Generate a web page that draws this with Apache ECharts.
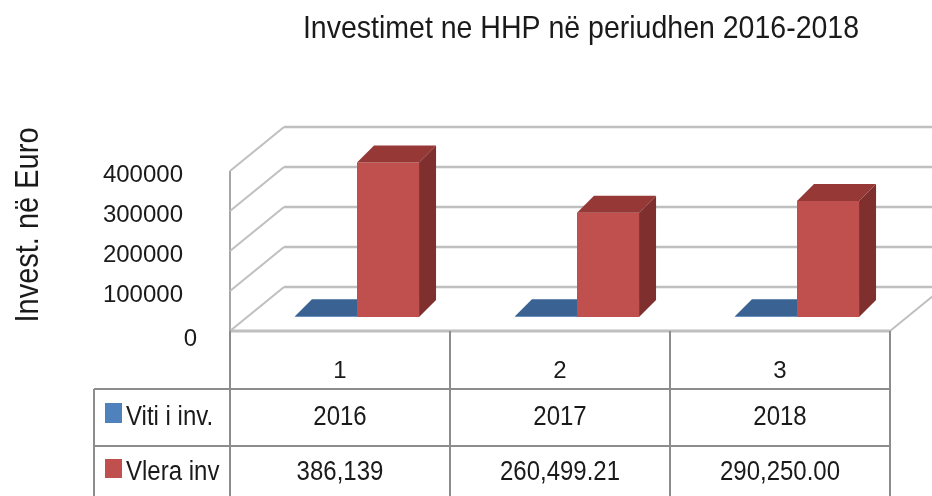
<!DOCTYPE html>
<html><head><meta charset="utf-8">
<script src="https://cdn.jsdelivr.net/npm/echarts@6/dist/echarts.min.js"></script>
<style>html,body{margin:0;padding:0;background:#fff}#c{width:932px;height:496px}</style>
</head><body><div id="c"></div>
<script>
// ---- data ----
const titleText = 'Investimet ne HHP në periudhen 2016-2018';
const yAxisTitle = 'Invest. në Euro';
const categories = ['1', '2', '3'];
const seriesNames = ['Viti i inv.', 'Vlera inv'];
const vitiValues = [2016, 2017, 2018];
const vleraValues = [386139, 260499.21, 290250.00];
const vitiLabels = ['2016', '2017', '2018'];
const vleraLabels = ['386,139', '260,499.21', '290,250.00'];
const yTicks = [0, 100000, 200000, 300000, 400000];

// ---- styles ----
const FONT = 'Liberation Sans';
const TXT = '#1a1a1a';
const faces = [
  { front: '#4F81BD', top: '#3A6394', side: '#2F5079' },
  { front: '#C0504D', top: '#953836', side: '#7F302E' }
];
const FY = 4;            // front plane offset (px up from axis coord)
const PX = 17, PY = 18;  // bar plane offset
const DX = 17, DY = 17;  // bar depth
const BX = 54, BY = 48;  // back wall offset
const GRID = '#bfbfbf';
const TABLE = '#8c8c8c';
const STRETCH = 1.15;

function seg(x1, y1, x2, y2, stroke, w) {
  return { type: 'line', shape: { x1, y1, x2, y2 }, style: { stroke, lineWidth: w } };
}
function txt(x, y, text, size, align) {
  return { type: 'text', x, y, scaleY: STRETCH,
    style: { x: 0, y: 0, text, fontSize: size, fontFamily: FONT, fill: TXT,
      align: align || 'center', verticalAlign: 'middle' } };
}

function wallsRender(params, api) {
  const cs = params.coordSys;
  const v = api.value(1);
  const y = api.coord([0, v])[1];
  const xl = cs.x, xr = cs.x + cs.width;
  const yf = y - FY, yb = y - BY;
  const ch = [];
  ch.push(seg(xl, yf, xl + BX, yb, GRID, 2));
  ch.push(seg(xl + BX, yb, xr + BX + 80, yb, GRID, 2.5));
  if (v === 0) {
    const yTop = api.coord([0, yTicks[yTicks.length - 1]])[1] - FY;
    ch.push(seg(xl, yf, xr, yf, GRID, 3));
    ch.push(seg(xr, yf, xr + BX, yb, GRID, 2));
    ch.push(seg(xl, yf, xl, yTop, '#a6a6a6', 2));
  }
  return { type: 'group', children: ch };
}

function barRender(sIdx) {
  return function (params, api) {
    const i = api.value(0), v = api.value(1);
    const base = api.coord([i, 0]);
    const topP = api.coord([i, v]);
    const band = api.size([1, 0])[0];
    const bw = band * 0.282;
    const cx = base[0] + PX;
    const x0 = sIdx === 0 ? cx - bw : cx;
    const x1 = x0 + bw;
    const yb = base[1] - PY, yt = topP[1] - PY;
    const f = faces[sIdx];
    return { type: 'group', children: [
      { type: 'rect', shape: { x: x0, y: yt, width: bw, height: Math.max(yb - yt, 0.5) }, style: { fill: f.front } },
      { type: 'polygon', shape: { points: [[x0, yt], [x1, yt], [x1 + DX, yt - DY], [x0 + DX, yt - DY]] }, style: { fill: f.top } },
      { type: 'polygon', shape: { points: [[x1, yt], [x1 + DX, yt - DY], [x1 + DX, yb - DY], [x1, yb]] }, style: { fill: f.side } }
    ] };
  };
}

function tableRender(params, api) {
  const cs = params.coordSys;
  const i = api.value(0);
  const p = api.coord([i, 0]);
  const band = api.size([1, 0])[0];
  const y0 = p[1];
  const xl = cs.x, xr = cs.x + cs.width;
  const ch = [];
  const yHead = y0 + 54, yRow = y0 + 111, yEnd = y0 + 175;
  ch.push(seg(p[0] + band / 2, y0 - FY, p[0] + band / 2, yEnd, TABLE, 2));
  ch.push(txt(p[0], y0 + 82, vitiLabels[i], 24));
  ch.push(txt(p[0], y0 + 137, vleraLabels[i], 24));
  if (i === 0) {
    const xL = xl - 136;
    ch.push(seg(xl, y0 - FY, xl, yEnd, TABLE, 2));
    ch.push(seg(xL, yHead, xL, yEnd, TABLE, 2));
    ch.push(seg(xL, yHead, xr, yHead, TABLE, 2));
    ch.push(seg(xL, yRow, xr, yRow, TABLE, 2));
    ch.push({ type: 'rect', shape: { x: xL + 11, y: y0 + 68, width: 17, height: 20 }, style: { fill: faces[0].front } });
    ch.push({ type: 'rect', shape: { x: xL + 11, y: y0 + 124, width: 17, height: 19 }, style: { fill: faces[1].front } });
    ch.push(txt(xL + 32, y0 + 82, seriesNames[0], 24, 'left'));
    ch.push(txt(xL + 32, y0 + 137, seriesNames[1], 24, 'left'));
  }
  return { type: 'group', children: ch };
}

const chart = echarts.init(document.getElementById('c'), null, { renderer: 'canvas' });
chart.setOption({
  animation: false,
  backgroundColor: '#fff',
  textStyle: { fontFamily: FONT },
  graphic: [
    { type: 'text', x: 581, y: 29, scaleY: 1.12,
      style: { x: 0, y: 0, text: titleText, fontSize: 28.5, fontFamily: FONT, fill: TXT, align: 'center', verticalAlign: 'middle' } },
    { type: 'text', x: 29, y: 225, rotation: Math.PI / 2, scaleY: 1.12,
      style: { x: 0, y: 0, text: yAxisTitle, fontSize: 29, fontFamily: FONT, fill: TXT, align: 'center', verticalAlign: 'middle' } }
  ],
  grid: { left: 230, top: 175, width: 660, height: 160, containLabel: false },
  xAxis: {
    type: 'category', data: categories,
    axisLine: { show: false }, axisTick: { show: false }, splitLine: { show: false },
    axisLabel: { margin: 24, fontSize: 24, color: TXT, fontFamily: FONT }
  },
  yAxis: {
    type: 'value', min: 0, max: 400000, interval: 100000,
    axisLine: { show: false }, axisTick: { show: false }, splitLine: { show: false },
    axisLabel: {
      margin: 47, fontSize: 24, color: TXT, fontFamily: FONT,
      formatter: v => v === 0 ? '{z|0}' : String(v),
      rich: { z: { fontSize: 24, color: TXT, fontFamily: FONT, padding: [8, -14, 0, 0] } }
    }
  },
  series: [
    { type: 'custom', name: 'walls', clip: false, z: 1, renderItem: wallsRender,
      data: yTicks.map(v => [0, v]), silent: true },
    { type: 'custom', name: seriesNames[0], clip: false, z: 2, renderItem: barRender(0),
      data: vitiValues.map((v, i) => [i, v]) },
    { type: 'custom', name: seriesNames[1], clip: false, z: 3, renderItem: barRender(1),
      data: vleraValues.map((v, i) => [i, v]) },
    { type: 'custom', name: 'table', clip: false, z: 4, renderItem: tableRender,
      data: categories.map((c, i) => [i, 0]), silent: true }
  ]
});
</script>
</body></html>
